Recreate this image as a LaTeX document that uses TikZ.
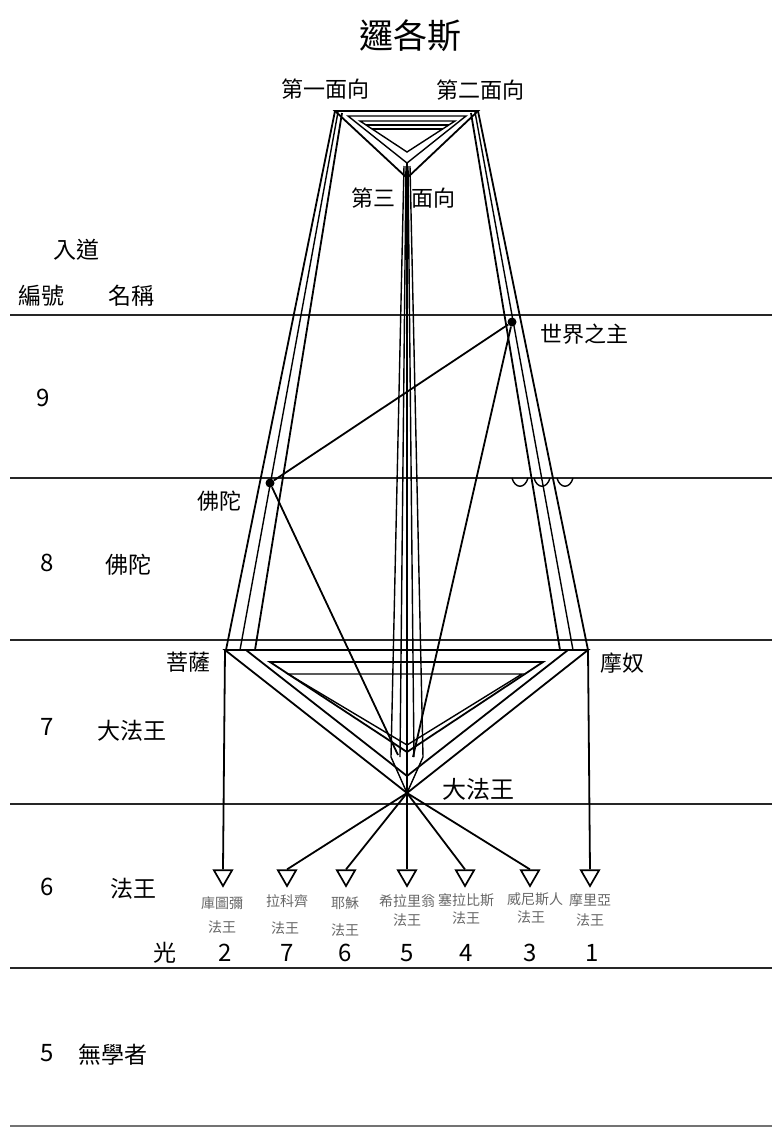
\documentclass[tikz,border=0pt]{standalone}
\usepackage{fontspec}
\setmainfont{Noto Sans CJK TC}
\usetikzlibrary{shapes.geometric}
\begin{document}
\begin{tikzpicture}[x=1pt,y=-1pt,
  level/.style={line width=2.6pt, black!85},
  ln/.style={line width=1.8pt, black},
  thinln/.style={line width=1.4pt, black},
  lbl/.style={font=\fontsize{22}{22}\selectfont, inner sep=1pt},
  side/.style={font=\fontsize{23}{23}\selectfont, inner sep=1pt},
  small/.style={font=\fontsize{14}{14}\selectfont, text=black!60, inner sep=0pt},
  num/.style={font=\fontsize{24}{24}\selectfont, inner sep=0pt},
  tri/.style={regular polygon, regular polygon sides=3, shape border rotate=180, draw, line width=1.7pt, minimum size=21pt, inner sep=0pt},
  knot/.style={circle, fill=black, inner sep=0pt, minimum size=9pt},
]
\useasboundingbox (0,0) rectangle (772,1128);

% level lines
\foreach \yy/\nm in {315/a,478/b,640/c,804/d,968/e}{
  \coordinate (lv\nm L) at (10,\yy);
  \coordinate (lv\nm R) at (772,\yy);
  \draw[level] (lv\nm L) -- (lv\nm R);
}
\coordinate (lvfL) at (10,1126);
\coordinate (lvfR) at (772,1126);
\draw[level, black!55] (lvfL) -- (lvfR);

% ---- top triangle
\coordinate (tA) at (335,111); \coordinate (tB) at (478,111); \coordinate (tC) at (407,178);
\coordinate (tA2) at (348,116); \coordinate (tB2) at (466,116); \coordinate (tC2) at (407,163);
\coordinate (tA3) at (360,121); \coordinate (tB3) at (455,121); \coordinate (tC3) at (407,152);
\coordinate (s1L) at (366,125); \coordinate (s1R) at (449,125);
\coordinate (s2L) at (372,129); \coordinate (s2R) at (443,129);
\draw[ln, line join=miter] (tA) -- (tB) -- (tC) -- cycle;
\draw[thinln] (tA2) -- (tB2) -- (tC2) -- cycle;
\draw[thinln] (tA3) -- (tB3) -- (tC3) -- cycle;
\draw[thinln] (s1L) -- (s1R);
\draw[thinln] (s2L) -- (s2R);

% ---- bottom triangle
\coordinate (mc) at (407,793);
\coordinate (bA) at (225,650); \coordinate (bB) at (588,650);
\coordinate (bA2) at (246,650); \coordinate (bB2) at (568,650); \coordinate (bC2) at (407,776);
\coordinate (iA) at (270,662); \coordinate (iB) at (543,662); \coordinate (iC) at (407,752);
\coordinate (jA) at (288,674); \coordinate (jB) at (522,674); \coordinate (jC) at (407,745);
\draw[ln, line join=miter] (bA) -- (bB) -- (mc) -- cycle;
\draw[ln] (bA2) -- (bC2) -- (bB2);
\draw[ln] (iA) -- (iB) -- (iC) -- cycle;
\draw[thinln] (jA) -- (jB) -- (jC) -- cycle;

% ---- left beam
\coordinate (lb1t) at (335,111); \coordinate (lb1b) at (226,650);
\coordinate (lb2t) at (338,112); \coordinate (lb2b) at (240,650);
\coordinate (lb3t) at (342,113); \coordinate (lb3b) at (255,650);
\draw[ln] (lb1t) -- (lb1b);
\draw[thinln] (lb2t) -- (lb2b);
\draw[ln] (lb3t) -- (lb3b);

% ---- right beam
\coordinate (rb1t) at (478,111); \coordinate (rb1b) at (588,650);
\coordinate (rb2t) at (475,112); \coordinate (rb2b) at (573,650);
\coordinate (rb3t) at (471,113); \coordinate (rb3b) at (560,650);
\draw[ln] (rb1t) -- (rb1b);
\draw[thinln] (rb2t) -- (rb2b);
\draw[ln] (rb3t) -- (rb3b);

% ---- central beam
\coordinate (cT) at (407,163);
\coordinate (c1t) at (404,166); \coordinate (c1b) at (391,757);
\coordinate (c2t) at (406,166); \coordinate (c2b) at (400,757);
\coordinate (c4t) at (408,166); \coordinate (c4b) at (414,757);
\coordinate (c5t) at (410,166); \coordinate (c5b) at (423,757);
\draw[ln] (cT) -- (mc);
\draw[thinln] (c1t) -- (c1b) -- (mc);
\draw[thinln] (c2t) -- (c2b);
\draw[thinln] (c4t) -- (c4b);
\draw[thinln] (c5t) -- (c5b) -- (mc);

% ---- knots and cross lines
\node[knot] (low) at (512,322) {};
\node[knot] (bud) at (270,483) {};
\coordinate (mcL) at (398,755);
\coordinate (mcR) at (413,757);
\draw[ln] (low) -- (bud);
\draw[ln] (low) -- (mcR);
\draw[ln] (bud) -- (mcL);

% cups
\foreach \cx in {520,542,565}{
  \draw[thinln] (\cx-8,478) .. controls (\cx-5,489) and (\cx+5,489) .. (\cx+8,478);
}

% ---- arrows (triangles)
\node[tri] (t2) at (223,875.5) {};
\node[tri] (t7) at (287,875.5) {};
\node[tri] (t6) at (346,875.5) {};
\node[tri] (t5) at (407,875.5) {};
\node[tri] (t4) at (465,875.5) {};
\node[tri] (t3) at (530,875.5) {};
\node[tri] (t1) at (590,875.5) {};
\draw[ln] (bA) -- (t2.north);
\draw[ln] (bB) -- (t1.north);
\foreach \t in {t7,t6,t5,t4,t3}{ \draw[ln] (mc) -- (\t.north); }

% ---- labels
\node[font=\fontsize{34}{34}\selectfont] (title) at (410,36) {邏各斯};
\node[lbl] (f1) at (325,89) {第一面向};
\node[lbl] (f2) at (480,90) {第二面向};
\node[lbl] (f3a) at (373,198) {第三};
\node[lbl] (f3b) at (433,198) {面向};
\node[lbl] (lowl) at (584,334) {世界之主};
\node[lbl] (budl) at (219,501) {佛陀};
\node[lbl] (bodl) at (188,662) {菩薩};
\node[lbl] (manl) at (622,663) {摩奴};
\node[lbl, fill=white, font=\fontsize{24}{24}\selectfont] (mcl) at (478,789) {大法王};

\node[side] (ru) at (76,250) {入道};
\node[side] (bh) at (41,296) {編號};
\node[side] (mch) at (131,296) {名稱};
\node[num] (n9) at (43,398) {9};
\node[num] (n8) at (47,563) {8};
\node[side] (n8t) at (128,565) {佛陀};
\node[num] (n7) at (47,727) {7};
\node[side] (n7t) at (132,731) {大法王};
\node[num] (n6) at (47,887) {6};
\node[side] (n6t) at (133,889) {法王};
\node[num] (n5) at (47,1053) {5};
\node[side] (n5t) at (113,1055) {無學者};

\node[side] (guang) at (165,953) {光};
\node[num] (r2) at (225,953) {2};
\node[num] (r7) at (287,953) {7};
\node[num] (r6) at (345,953) {6};
\node[num] (r5) at (407,953) {5};
\node[num] (r4) at (466,953) {4};
\node[num] (r3) at (530,953) {3};
\node[num] (r1) at (592,953) {1};

\node[small] (k2a) at (222,903) {庫圖彌};
\node[small] (k2b) at (222,927) {法王};
\node[small] (k7a) at (287,901) {拉科齊};
\node[small] (k7b) at (285,928) {法王};
\node[small] (k6a) at (345,903) {耶穌};
\node[small] (k6b) at (345,930) {法王};
\node[small] (k5a) at (407,901) {希拉里翁};
\node[small] (k5b) at (407,920) {法王};
\node[small] (k4a) at (466,900) {塞拉比斯};
\node[small] (k4b) at (466,918) {法王};
\node[small] (k3a) at (535,899) {威尼斯人};
\node[small] (k3b) at (531,917) {法王};
\node[small] (k1a) at (590,900) {摩里亞};
\node[small] (k1b) at (590,920) {法王};
\end{tikzpicture}
\end{document}
